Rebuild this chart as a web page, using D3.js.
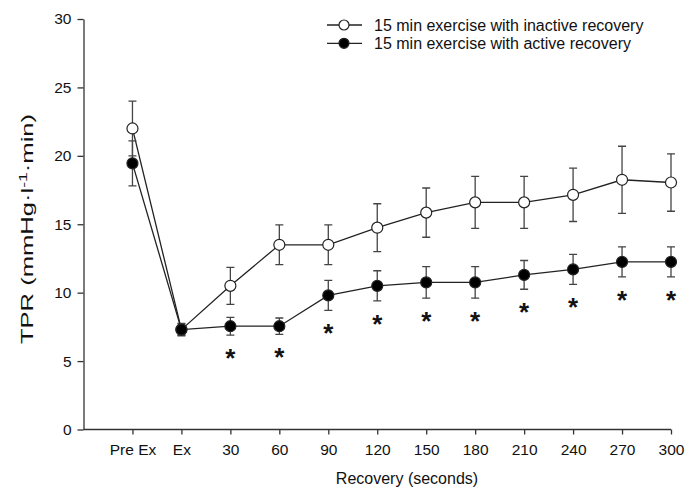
<!DOCTYPE html>
<meta charset="utf-8">
<html>
  <head>
    <title>TPR recovery</title>
    <style>
      body { margin: 0; background: #fff; }
      text { font-family: "Liberation Sans", Arial, sans-serif; fill: #111; }
    </style>
  </head>
  <body>
    <script src="https://d3js.org/d3.v7.min.js"></script>
    <script>

// data
var categories = ["Pre Ex", "Ex", "30", "60", "90", "120", "150", "180", "210", "240", "270", "300"];
var inactiveMean = [22.0, 7.3, 10.5, 13.5, 13.5, 14.75, 15.85, 16.6, 16.6, 17.15, 18.25, 18.05];
var inactiveErr  = [2.0, 0.4, 1.35, 1.45, 1.45, 1.75, 1.8, 1.9, 1.9, 1.95, 2.45, 2.1];
var activeMean   = [19.45, 7.3, 7.55, 7.55, 9.8, 10.5, 10.75, 10.75, 11.3, 11.7, 12.25, 12.25];
var activeErr    = [1.65, 0.45, 0.65, 0.6, 1.1, 1.1, 1.15, 1.15, 1.05, 1.1, 1.1, 1.1];
var significant  = [false, false, true, true, true, true, true, true, true, true, true, true];
var yTicks = [0, 5, 10, 15, 20, 25, 30];
var legendLabels = ["15 min exercise with inactive recovery", "15 min exercise with active recovery"];

var width = 697, height = 492;

var svg = d3.select("body").append("svg")
    .attr("width", width)
    .attr("height", height);

// index -1 sits on the y axis
var x = d3.scaleLinear()
    .domain([-1, categories.length - 1])
    .range([83.5, 671]);

var y = d3.scaleLinear()
    .domain([0, 30])
    .range([429.5, 19]);

/*
   axes
*/
var xAxis = d3.axisBottom(x)
    .tickValues(d3.range(categories.length))
    .tickFormat(function(i) { return categories[i]; })
    .tickSize(5)
    .tickPadding(9)
    .tickSizeOuter(0);

var gx = svg.append("g")
    .attr("transform", "translate(0," + y(0) + ")")
    .call(xAxis);

var yAxis = d3.axisLeft(y)
    .tickValues(yTicks)
    .tickSize(6)
    .tickPadding(6)
    .tickSizeOuter(0);

var gy = svg.append("g")
    .attr("transform", "translate(" + x(-1) + ",0)")
    .call(yAxis);

[gx, gy].forEach(function(g) {
  g.selectAll("path, line").style("stroke", "#333").style("stroke-width", 1.3);
  g.selectAll("text").style("font-size", "15.5px").style("fill", "#111")
    .style("font-family", "'Liberation Sans', Arial, sans-serif");
});
gx.select(".domain").attr("d", "M" + x(-1) + ",0H" + x(categories.length - 1));

svg.append("text")
    .attr("x", 407)
    .attr("y", 484)
    .attr("text-anchor", "middle")
    .style("font-size", "16px")
    .text("Recovery (seconds)");

// the y title in the original is stretched along its length
var ylab = svg.append("text")
    .attr("transform", "translate(33,229) rotate(-90) scale(1.6,1)")
    .attr("text-anchor", "middle")
    .style("font-size", "16px");
ylab.append("tspan").text("TPR (mmHg\u00b7l");
ylab.append("tspan").attr("dy", "-6").style("font-size", "11px").text("-1");
ylab.append("tspan").attr("dy", "6").text("\u00b7min)");

/*
   series
*/
function drawSeries(mean, err, fill) {
  var g = svg.append("g");
  var idx = d3.range(mean.length);

  // error bars
  g.selectAll("line.err")
      .data(idx)
    .enter().append("line")
      .attr("class", "err")
      .attr("x1", function(i) { return x(i); })
      .attr("x2", function(i) { return x(i); })
      .attr("y1", function(i) { return y(mean[i] + err[i]); })
      .attr("y2", function(i) { return y(mean[i] - err[i]); })
      .style("stroke", "#444").style("stroke-width", 1.3);

  g.selectAll("path.cap")
      .data(idx)
    .enter().append("path")
      .attr("class", "cap")
      .attr("d", function(i) {
        var cx = x(i);
        return "M" + (cx - 4) + "," + y(mean[i] + err[i]) + "H" + (cx + 4) +
               "M" + (cx - 4) + "," + y(mean[i] - err[i]) + "H" + (cx + 4);
      })
      .style("stroke", "#444").style("stroke-width", 1.3);

  var line = d3.line()
      .x(function(i) { return x(i); })
      .y(function(i) { return y(mean[i]); });

  g.append("path")
      .datum(idx)
      .attr("d", line)
      .style("fill", "none")
      .style("stroke", "#222")
      .style("stroke-width", 1.3);

  g.selectAll("circle")
      .data(idx)
    .enter().append("circle")
      .attr("cx", function(i) { return x(i); })
      .attr("cy", function(i) { return y(mean[i]); })
      .attr("r", 5.5)
      .style("fill", fill)
      .style("stroke", "#222")
      .style("stroke-width", 1.2);
}

drawSeries(inactiveMean, inactiveErr, "#fff");
drawSeries(activeMean, activeErr, "#000");

// significance stars below the active recovery bars
svg.append("g").selectAll("text")
    .data(d3.range(categories.length).filter(function(i) { return significant[i]; }))
  .enter().append("text")
    .attr("x", function(i) { return x(i); })
    .attr("y", function(i) { return y(activeMean[i] - activeErr[i]) + 32; })
    .attr("text-anchor", "middle")
    .style("font-size", "26px")
    .style("font-weight", "bold")
    .text("*");

/*
   legend
*/
var legend = svg.append("g");
var fills = ["#fff", "#000"];
legendLabels.forEach(function(label, k) {
  var ly = 25 + k * 18.3;
  legend.append("line")
      .attr("x1", 327).attr("x2", 362)
      .attr("y1", ly).attr("y2", ly)
      .style("stroke", "#222").style("stroke-width", 1.3);
  legend.append("circle")
      .attr("cx", 344).attr("cy", ly).attr("r", 5)
      .style("fill", fills[k]).style("stroke", "#222").style("stroke-width", 1.2);
  legend.append("text")
      .attr("x", 374).attr("y", ly)
      .attr("dy", "0.35em")
      .style("font-size", "16px")
      .text(label);
});

    </script>
  </body>
</html>
